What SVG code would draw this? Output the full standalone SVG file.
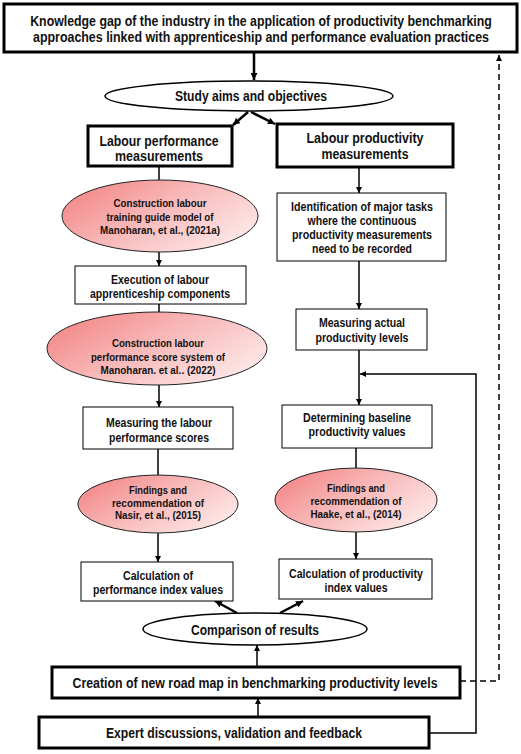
<svg xmlns="http://www.w3.org/2000/svg" width="521" height="754" viewBox="0 0 521 754">
<defs>
<linearGradient id="pink" x1="0" y1="0" x2="1" y2="0.6">
<stop offset="0" stop-color="#f27c7c"/>
<stop offset="0.5" stop-color="#f8b4b4"/>
<stop offset="1" stop-color="#fde4e4"/>
</linearGradient>
<marker id="ah" viewBox="0 0 10 10" refX="10" refY="5" markerWidth="6" markerHeight="6" markerUnits="userSpaceOnUse" orient="auto">
<path d="M0,0 L10,5 L0,10 z" fill="#000"/>
</marker>
<marker id="ah2" viewBox="0 0 10 10" refX="10" refY="5" markerWidth="7" markerHeight="7" markerUnits="userSpaceOnUse" orient="auto">
<path d="M0,0 L10,5 L0,10 z" fill="#000"/>
</marker>
</defs>
<style>
text{font-family:"Liberation Sans",Arial,sans-serif;font-weight:bold;fill:#111;text-anchor:middle;}
.t15{font-size:14.5px}
.t14{font-size:14px}
.t12{font-size:12.5px}
.t11{font-size:11px}
.t10{font-size:10.5px}
.thick{fill:#fff;stroke:#000;stroke-width:3}
.thin{fill:#fff;stroke:#000;stroke-width:1}
.oval{fill:#fff;stroke:#000;stroke-width:1.5}
.pink{fill:url(#pink);stroke:#222;stroke-width:1}
.c{fill:none;stroke:#000;stroke-width:1.5}
.ca{fill:none;stroke:#000;stroke-width:1.5;marker-end:url(#ah)}
.cb{fill:none;stroke:#000;stroke-width:2.5;marker-end:url(#ah2)}
.dash{fill:none;stroke:#000;stroke-width:1.5;stroke-dasharray:6,4;marker-end:url(#ah)}
</style>
<rect width="521" height="754" fill="#fff"/>

<g id="connectors">
<line class="cb" x1="254" y1="52" x2="254" y2="80"/>
<line class="cb" x1="248" y1="112" x2="233" y2="125"/>
<line class="cb" x1="251" y1="112" x2="275" y2="124"/>
<line class="c" x1="159" y1="166" x2="159" y2="180"/>
<line class="ca" x1="159" y1="252" x2="159" y2="266"/>
<line class="c" x1="159" y1="304" x2="159" y2="312"/>
<line class="ca" x1="159" y1="385" x2="159" y2="407"/>
<line class="c" x1="158" y1="449" x2="158" y2="475"/>
<line class="ca" x1="158" y1="533" x2="158" y2="562"/>
<line class="ca" x1="359" y1="167" x2="359" y2="193"/>
<line class="ca" x1="359" y1="261" x2="359" y2="309"/>
<line class="ca" x1="359" y1="350" x2="359" y2="405"/>
<line class="c" x1="356" y1="448" x2="356" y2="468"/>
<line class="ca" x1="356" y1="532" x2="356" y2="559"/>
<line class="cb" x1="237" y1="613" x2="215" y2="601"/>
<line class="cb" x1="280" y1="613" x2="303" y2="601"/>
<line class="ca" x1="257" y1="667" x2="257" y2="645"/>
<line class="ca" x1="258" y1="717" x2="258" y2="698"/>
<polyline class="ca" points="429,733 476,733 476,374 360,374"/>
<polyline class="dash" points="460,681 499,681 499,55"/>
</g>

<g id="n-gap">
<rect class="thick" x="4" y="4" width="513" height="48"/>
<text class="t15" x="0" y="0" transform="translate(261,26) scale(0.8,1)" textLength="577" lengthAdjust="spacingAndGlyphs">Knowledge gap of the industry in the application of productivity benchmarking</text>
<text class="t15" x="0" y="0" transform="translate(261,42) scale(0.8,1)" textLength="570" lengthAdjust="spacingAndGlyphs">approaches linked with apprenticeship and performance evaluation practices</text>
</g>

<g id="n-aims">
<ellipse class="oval" cx="249" cy="96" rx="144" ry="15"/>
<text class="t14" x="251" y="101" textLength="152" lengthAdjust="spacingAndGlyphs">Study aims and objectives</text>
</g>

<g id="n-lpm">
<rect class="thick" x="88" y="126" width="144" height="40"/>
<text class="t14" x="159" y="146" textLength="119" lengthAdjust="spacingAndGlyphs">Labour performance</text>
<text class="t14" x="159" y="161" textLength="88" lengthAdjust="spacingAndGlyphs">measurements</text>
</g>

<g id="n-lprod">
<rect class="thick" x="277" y="124" width="176" height="43"/>
<text class="t14" x="365" y="143" textLength="117" lengthAdjust="spacingAndGlyphs">Labour productivity</text>
<text class="t14" x="365" y="159" textLength="87" lengthAdjust="spacingAndGlyphs">measurements</text>
</g>

<g id="n-training">
<ellipse class="pink" cx="160" cy="216" rx="98" ry="36"/>
<text class="t11" x="160" y="207" textLength="93" lengthAdjust="spacingAndGlyphs">Construction labour</text>
<text class="t11" x="160" y="221" textLength="107" lengthAdjust="spacingAndGlyphs">training guide model of</text>
<text class="t11" x="160" y="234" textLength="120" lengthAdjust="spacingAndGlyphs">Manoharan, et al., (2021a)</text>
</g>

<g id="n-exec">
<rect class="thin" x="75" y="266" width="171" height="38"/>
<text class="t12" x="160" y="283.5" textLength="98" lengthAdjust="spacingAndGlyphs">Execution of labour</text>
<text class="t12" x="160" y="297.5" textLength="140" lengthAdjust="spacingAndGlyphs">apprenticeship components</text>
</g>

<g id="n-score">
<ellipse class="pink" cx="157" cy="348.5" rx="110" ry="36.5"/>
<text class="t11" x="158" y="347" textLength="92" lengthAdjust="spacingAndGlyphs">Construction labour</text>
<text class="t11" x="158" y="361" textLength="134" lengthAdjust="spacingAndGlyphs">performance score system of</text>
<text class="t11" x="158" y="374" textLength="115" lengthAdjust="spacingAndGlyphs">Manoharan. et al.. (2022)</text>
</g>

<g id="n-measscore">
<rect class="thin" x="83" y="407" width="150" height="42"/>
<text class="t12" x="159" y="426.5" textLength="106" lengthAdjust="spacingAndGlyphs">Measuring the labour</text>
<text class="t12" x="159" y="441.5" textLength="100" lengthAdjust="spacingAndGlyphs">performance scores</text>
</g>

<g id="n-nasir">
<ellipse class="pink" cx="158" cy="504" rx="80" ry="29"/>
<text class="t11" x="158" y="494" textLength="58" lengthAdjust="spacingAndGlyphs">Findings and</text>
<text class="t10" x="158" y="507" textLength="92" lengthAdjust="spacingAndGlyphs">recommendation of</text>
<text class="t11" x="158" y="519" textLength="86" lengthAdjust="spacingAndGlyphs">Nasir, et al., (2015)</text>
</g>

<g id="n-calcperf">
<rect class="thin" x="81" y="562" width="152" height="39"/>
<text class="t12" x="158" y="579.5" textLength="70" lengthAdjust="spacingAndGlyphs">Calculation of</text>
<text class="t12" x="158" y="593.5" textLength="130" lengthAdjust="spacingAndGlyphs">performance index values</text>
</g>

<g id="n-ident">
<rect class="thin" x="277" y="193" width="169" height="68"/>
<text class="t12" x="362" y="210.5" textLength="142" lengthAdjust="spacingAndGlyphs">Identification of major tasks</text>
<text class="t12" x="362" y="224.5" textLength="109" lengthAdjust="spacingAndGlyphs">where the continuous</text>
<text class="t12" x="362" y="238.5" textLength="140" lengthAdjust="spacingAndGlyphs">productivity measurements</text>
<text class="t12" x="362" y="252.5" textLength="100" lengthAdjust="spacingAndGlyphs">need to be recorded</text>
</g>

<g id="n-actual">
<rect class="thin" x="296" y="309" width="131" height="41"/>
<text class="t12" x="362" y="326.5" textLength="86" lengthAdjust="spacingAndGlyphs">Measuring actual</text>
<text class="t12" x="362" y="341.5" textLength="93" lengthAdjust="spacingAndGlyphs">productivity levels</text>
</g>

<g id="n-baseline">
<rect class="thin" x="282" y="405" width="150" height="43"/>
<text class="t12" x="357" y="421.5" textLength="108" lengthAdjust="spacingAndGlyphs">Determining baseline</text>
<text class="t12" x="357" y="435.5" textLength="97" lengthAdjust="spacingAndGlyphs">productivity values</text>
</g>

<g id="n-haake">
<ellipse class="pink" cx="356" cy="500" rx="81" ry="32"/>
<text class="t11" x="356" y="492" textLength="58" lengthAdjust="spacingAndGlyphs">Findings and</text>
<text class="t10" x="356" y="505" textLength="91" lengthAdjust="spacingAndGlyphs">recommendation of</text>
<text class="t11" x="356" y="518" textLength="91" lengthAdjust="spacingAndGlyphs">Haake, et al., (2014)</text>
</g>

<g id="n-calcprod">
<rect class="thin" x="279" y="559" width="153" height="40"/>
<text class="t12" x="356" y="577.5" textLength="134" lengthAdjust="spacingAndGlyphs">Calculation of productivity</text>
<text class="t12" x="356" y="591.5" textLength="63" lengthAdjust="spacingAndGlyphs">index values</text>
</g>

<g id="n-compare">
<ellipse class="oval" cx="255" cy="629" rx="112" ry="16"/>
<text class="t14" x="255" y="635" textLength="128" lengthAdjust="spacingAndGlyphs">Comparison of results</text>
</g>

<g id="n-roadmap">
<rect class="thick" x="52" y="667" width="408" height="31"/>
<text class="t14" x="255" y="688" textLength="365" lengthAdjust="spacingAndGlyphs">Creation of new road map in benchmarking productivity levels</text>
</g>

<g id="n-expert">
<rect class="thick" x="39" y="717" width="390" height="31"/>
<text class="t14" x="234" y="738" textLength="256" lengthAdjust="spacingAndGlyphs">Expert discussions, validation and feedback</text>
</g>
</svg>
